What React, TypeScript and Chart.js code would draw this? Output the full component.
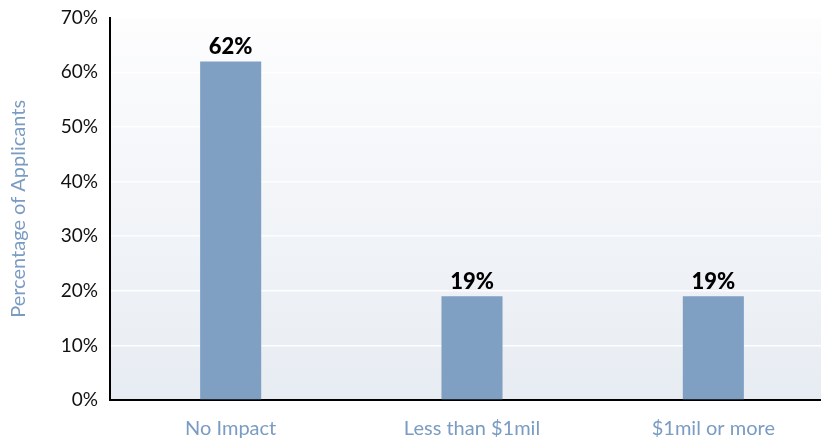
import React, { useEffect, useRef } from "react";
import { Chart, registerables } from "chart.js";

Chart.register(...registerables);

const categories = ["No Impact", "Less than $1mil", "$1mil or more"];
const values = [62, 19, 19];
const yTicks = [0, 10, 20, 30, 40, 50, 60, 70];

const FONT = "Lato, 'DejaVu Sans', sans-serif";

const bgPlugin = {
  id: "bgGradient",
  beforeDraw(chart: any) {
    const { ctx, chartArea } = chart;
    if (!chartArea) return;
    const g = ctx.createLinearGradient(0, chartArea.top, 0, chartArea.bottom);
    g.addColorStop(0, "#fdfdfe");
    g.addColorStop(1, "#e7ecf2");
    ctx.save();
    ctx.fillStyle = g;
    ctx.fillRect(chartArea.left, chartArea.top, chartArea.right - chartArea.left, chartArea.bottom - chartArea.top);
    ctx.restore();
  },
};

const labelPlugin = {
  id: "valueLabels",
  afterDatasetsDraw(chart: any) {
    const { ctx } = chart;
    const meta = chart.getDatasetMeta(0);
    ctx.save();
    ctx.font = `900 22px ${FONT}`;
    ctx.fillStyle = "#000";
    ctx.textAlign = "center";
    ctx.textBaseline = "bottom";
    meta.data.forEach((bar: any, i: number) => {
      ctx.fillText(`${values[i]}%`, bar.x, bar.y - 3);
    });
    ctx.restore();
  },
};

export default function App() {
  const ref = useRef<HTMLCanvasElement>(null);
  useEffect(() => {
    document.body.style.margin = "0";
    document.body.style.overflow = "hidden";
    const chart = new Chart(ref.current!, {
      type: "bar",
      data: {
        labels: categories,
        datasets: [
          {
            data: values,
            backgroundColor: "#7f9fc3",
            barPercentage: 0.253,
            categoryPercentage: 1,
          },
        ],
      },
      options: {
        animation: false,
        responsive: false,
        layout: { padding: { top: 13, right: 0, left: 0, bottom: 0 } },
        plugins: { legend: { display: false }, tooltip: { enabled: false } },
        scales: {
          x: {
            grid: { display: false, drawTicks: false },
            border: { display: true, color: "#000", width: 2 },
            ticks: {
              color: "#7a9bc2",
              font: { family: FONT, size: 20 },
              padding: 17,
            },
            afterFit(scale: any) {
              scale.height = 41;
            },
          },
          y: {
            min: 0,
            max: 70,
            afterBuildTicks(scale: any) {
              scale.ticks = yTicks.map((v) => ({ value: v }));
            },
            grid: { color: "rgba(255,255,255,0.9)", lineWidth: 1.5, drawTicks: false },
            border: { display: true, color: "#000", width: 2 },
            ticks: {
              color: "#111",
              font: { family: FONT, size: 19, lineHeight: 0.6 },
              padding: 12,
              callback: (v: any) => `${v}%`,
            },
            title: {
              display: true,
              text: "Percentage of Applicants",
              color: "#7a9bc2",
              font: { family: FONT, size: 20 },
              padding: { top: 7, bottom: 0 },
            },
            afterFit(scale: any) {
              scale.width = 110;
            },
          },
        },
      },
      plugins: [bgPlugin, labelPlugin],
    });
    return () => chart.destroy();
  }, []);
  return (
    <div style={{ width: 834, height: 441 }}>
      <canvas ref={ref} width={834} height={441} />
    </div>
  );
}
